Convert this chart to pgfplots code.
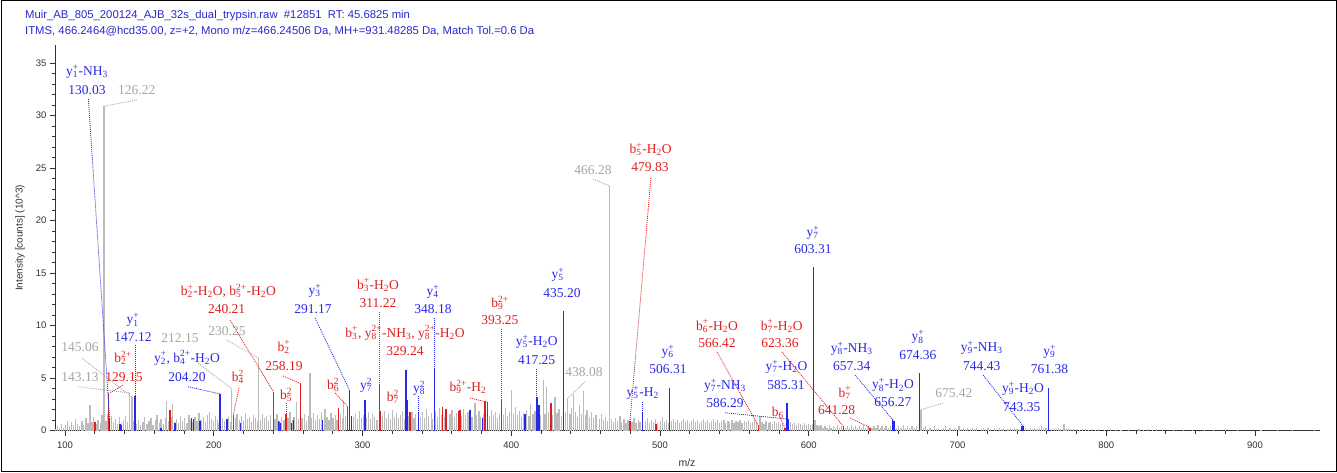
\documentclass[border=0pt]{standalone}
\usepackage{pgfplots}
\pgfplotsset{compat=1.18}
\usepackage{fontspec}
\setmainfont{Liberation Serif}
\newfontfamily\arial{Liberation Sans}
\definecolor{pblue}{RGB}{40,40,235}
\definecolor{pred}{RGB}{225,30,30}
\definecolor{pgrey}{RGB}{188,188,188}
\definecolor{lgrey}{RGB}{165,165,165}
\definecolor{tblue}{RGB}{40,40,205}
\definecolor{axc}{RGB}{50,50,50}
\newcommand\io[3]{#1\rlap{\textsubscript{#2}}\textsuperscript{#3}}
\newcommand\HtO{-H\textsubscript{2}O}
\newcommand\NHt{-NH\textsubscript{3}}
\begin{document}
\begin{tikzpicture}
\useasboundingbox (0,0) rectangle (1337pt,473pt);
\draw[black, line width=1pt] (1pt,1pt) rectangle (1336pt,472pt);
\node[anchor=west, text=tblue, font=\arial\fontsize{11.3}{13}\selectfont, inner sep=0] at (25pt,457.5pt) {Muir\_AB\_805\_200124\_AJB\_32s\_dual\_trypsin.raw~ \#12851~ RT: 45.6825 min};
\node[anchor=west, text=tblue, font=\arial\fontsize{11.3}{13}\selectfont, inner sep=0] at (25pt,442pt) {ITMS, 466.2464@hcd35.00, z=+2, Mono m/z=466.24506 Da, MH+=931.48285 Da, Match Tol.=0.6 Da};
\node[font=\arial\fontsize{10.5}{12}\selectfont, text=axc] at (687pt,10.5pt) {m/z};
\node[font=\arial\fontsize{10}{12}\selectfont, text=axc, rotate=90] at (20pt,235pt) {Intensity [counts] (10\textasciicircum 3)};
\begin{axis}[at={(55pt,42.3pt)}, anchor=south west, scale only axis,
  width=1265pt, height=385.7pt,
  xmin=93.28, xmax=943.7, ymin=0, ymax=36.73,
  axis lines*=left, clip=false,
  axis line style={axc, line width=0.9pt},
  xtick={100,200,...,900}, ytick={0,5,...,35},
  minor x tick num=4, minor y tick num=4,
  tick align=outside, major tick length=5pt, minor tick length=3pt,
  every tick/.style={axc, line width=0.9pt},
  tick label style={font=\arial\fontsize{9.5}{11}\selectfont, text=axc},
  /pgf/number format/assume math mode=true,
  xticklabel style={yshift=-2.5pt},
]
% grey peaks
\addplot[ycomb, pgrey, line width=1.2pt, no markers, forget plot] coordinates {
(93.8,0.2)(95.0,0.4)(96.3,0.3)(97.6,0.6)(99.0,0.3)(100.4,0.5)(101.7,0.9)(103.1,0.4)(104.6,0.8)(105.9,0.5)
(107.3,1.1)(108.6,0.6)(110.0,0.4)(111.4,0.9)(112.7,0.5)(114.1,1.2)(115.4,0.7)(116.8,2.4)(118.1,0.8)(119.4,1.3)
(120.8,0.6)(122.2,1.0)(123.6,0.7)(124.9,1.5)(126.22,30.9)(127.6,0.9)(128.4,1.6)(131.0,1.4)(132.4,0.8)(133.7,1.1)
(135.1,0.6)(136.5,1.3)(137.8,0.7)(139.2,1.0)(140.8,1.4)(142.0,0.8)(143.13,3.6)(145.06,3.2)(146.0,0.9)(148.3,0.6)
(149.6,1.0)(151.0,0.5)(152.4,0.8)(153.7,1.3)(155.1,0.6)(156.5,0.9)(157.8,1.2)(159.2,0.5)(160.6,1.0)(161.9,1.5)
(163.3,0.7)(164.6,1.1)(166.0,0.6)(167.3,1.2)(168.4,2.8)(169.5,0.9)(171.5,1.3)(172.4,2.5)(173.5,0.8)(175.2,1.1)
(176.5,0.7)(177.9,1.4)(179.2,0.9)(180.6,1.2)(182.0,0.7)(183.3,1.5)(184.7,1.0)(186.0,0.8)(187.4,1.3)(188.8,0.9)
(190.1,1.7)(191.5,1.0)(192.9,1.3)(194.2,0.8)(195.6,1.5)(197.0,1.8)(198.3,1.1)(199.7,0.9)(201.0,1.4)(202.4,1.0)
(203.4,0.7)(205.8,1.2)(207.2,0.9)(209.8,1.3)(211.0,0.8)(212.15,4.0)(214.4,1.2)(215.7,1.6)(217.1,1.0)(218.9,1.4)
(220.0,0.9)(221.3,1.7)(222.7,1.1)(224.1,1.3)(225.4,0.8)(226.8,1.5)(228.2,1.2)(229.5,0.9)(230.25,6.9)(231.6,1.0)
(233.0,1.6)(234.3,1.2)(235.7,1.4)(237.0,0.9)(238.4,1.5)(241.2,1.1)(242.5,1.6)(243.9,0.9)(245.8,1.3)(247.2,1.0)
(249.9,1.2)(251.3,1.8)(252.7,1.0)(254.0,1.3)(255.8,2.7)(257.1,1.1)(259.4,1.2)(260.8,1.6)(262.2,0.9)(263.5,1.4)
(264.7,5.5)(265.9,1.2)(267.2,1.7)(268.6,1.0)(270.0,1.5)(271.3,1.1)(272.6,1.8)(274.8,2.1)(276.1,1.3)(277.5,1.0)
(278.8,1.7)(280.2,1.2)(281.6,1.5)(282.9,1.0)(285.2,1.6)(286.5,1.2)(287.1,2.8)(288.4,1.4)(289.8,1.0)(293.9,1.3)
(295.2,1.6)(296.6,1.1)(298.0,1.9)(299.3,1.2)(300.6,1.5)(302.9,1.3)(304.2,1.8)(305.6,1.1)(307.0,1.6)(308.3,1.3)
(309.7,1.0)(313.5,1.4)(314.9,1.9)(316.2,1.2)(317.6,1.6)(319.0,1.1)(320.3,2.0)(321.7,1.3)(323.1,1.7)(324.4,1.2)
(325.8,1.5)(327.1,1.9)(328.4,1.1)(331.0,1.4)(333.3,1.8)(334.6,1.2)(335.9,1.6)(339.0,1.3)(340.3,1.8)(341.7,1.2)
(343.0,2.1)(344.4,1.4)(346.5,1.7)(347.3,1.1)(349.2,1.9)(350.5,1.3)(351.9,2.2)(353.0,1.5)(355.0,1.3)(358.9,1.6)
(360.2,2.0)(361.6,1.3)(363.0,1.7)(366.8,1.4)(368.1,2.1)(369.5,1.5)(370.9,1.8)(373.6,1.3)(375.6,2.6)(376.9,1.5)
(378.3,1.9)(379.3,1.3)(381.6,1.6)(385.5,1.4)(386.9,2.0)(388.2,1.5)(389.6,1.8)(391.0,1.2)(392.3,1.6)(394.6,1.5)
(396.0,2.2)(397.3,1.4)(398.7,1.8)(400.3,3.9)(401.5,1.6)(402.8,2.3)(404.2,1.5)(405.5,1.9)(406.9,1.3)(408.2,1.7)
(410.5,2.0)(411.9,1.4)(413.2,2.5)(414.6,1.6)(416.0,1.9)(419.7,1.5)(421.6,4.8)(422.7,1.6)(423.8,4.2)(425.2,1.8)
(428.0,1.5)(429.4,3.2)(430.8,1.7)(432.1,2.1)(434.0,1.4)(436.5,1.8)(438.08,3.1)(439.5,1.6)(440.6,2.2)(441.7,3.5)
(443.0,1.8)(444.4,1.3)(445.8,2.4)(447.2,1.6)(448.4,3.8)(449.7,1.5)(451.0,2.0)(452.4,1.3)(453.8,1.8)(455.1,1.2)
(457.0,1.5)(459.2,1.1)(460.6,1.6)(462.0,1.0)(463.3,1.3)(464.7,0.9)(466.28,23.3)(467.6,1.1)(469.0,0.8)(470.3,1.2)
(471.7,0.9)(473.1,1.4)(474.4,0.8)(475.8,1.1)(477.1,0.7)(478.5,1.0)(481.2,0.8)(482.5,1.2)(483.9,0.7)(485.3,1.0)
(486.6,0.8)(490.0,0.9)(491.4,1.2)(492.7,0.7)(494.1,1.0)(495.4,0.8)(496.8,1.1)(498.6,0.7)(500.2,0.9)(501.5,1.3)
(502.9,0.8)(504.2,1.0)(505.6,0.7)(507.6,0.9)(509.0,1.1)(510.3,0.8)(511.7,1.0)(513.0,0.7)(514.4,0.9)(515.8,1.1)
(517.1,0.8)(518.5,1.0)(519.8,0.7)(521.2,0.9)(522.6,1.1)(523.9,0.8)(525.3,1.0)(526.6,0.7)(528.0,0.9)(529.4,1.1)
(530.7,0.8)(532.1,1.0)(533.4,0.7)(534.8,0.9)(536.2,1.1)(537.5,0.8)(538.9,1.0)(540.2,0.7)(541.6,0.9)(543.0,1.0)
(544.3,0.7)(545.7,0.9)(547.0,0.8)(548.4,1.0)(549.8,0.7)(551.1,0.9)(552.5,0.8)(553.8,1.0)(555.2,0.7)(556.6,0.9)
(557.9,0.8)(559.3,1.0)(560.6,0.7)(562.0,0.8)(563.4,1.0)(564.7,0.7)(567.2,1.4)(568.6,0.8)(570.0,0.6)(571.3,0.9)
(572.7,0.7)(574.0,0.8)(575.4,0.6)(576.8,0.9)(578.1,0.7)(579.5,0.8)(580.8,0.6)(582.2,0.7)(587.5,0.8)(588.9,0.6)
(590.2,0.7)(591.6,0.5)(593.0,0.7)(594.3,0.6)(595.7,0.5)(597.0,0.7)(598.4,0.5)(599.8,0.6)(601.1,0.5)(602.5,0.6)
(604.2,1.0)(605.5,0.5)(606.9,0.4)(608.2,0.5)(609.6,0.3)(611.0,0.4)(612.3,0.3)(613.7,0.5)(615.0,0.3)(616.4,0.4)
(617.8,0.3)(619.1,0.5)(620.5,0.3)(621.8,0.4)(624.8,0.3)(626.2,0.4)(627.5,0.3)(628.9,0.5)(630.2,0.3)(631.6,0.4)
(633.0,0.3)(634.3,0.4)(635.7,0.3)(637.0,0.5)(638.4,0.3)(639.8,0.4)(642.5,0.3)(643.9,0.4)(645.2,0.3)(646.6,0.5)
(648.0,0.3)(649.3,0.4)(650.7,0.3)(652.0,0.4)(653.4,0.3)(654.8,0.4)(659.0,0.3)(660.5,0.4)(662.0,0.3)(663.5,0.5)
(665.0,0.3)(666.5,0.4)(668.0,0.3)(669.5,0.4)(671.0,0.3)(672.5,0.4)(675.42,2.0)(677.0,0.3)(678.5,0.4)(680.0,0.2)
(681.5,0.3)(683.0,0.2)(684.5,0.4)(686.0,0.2)(687.5,0.3)(689.0,0.2)(690.5,0.3)(692.0,0.4)(693.5,0.2)(695.0,0.3)
(696.5,0.2)(698.0,0.3)(699.5,0.2)(701.0,0.4)(702.5,0.2)(704.0,0.3)(705.5,0.2)(707.0,0.3)(708.5,0.2)(710.0,0.3)
(711.5,0.2)(713.0,0.3)(716.0,0.2)(717.5,0.3)(719.0,0.2)(720.5,0.3)(722.0,0.2)(725.0,0.3)(726.5,0.2)(728.0,0.3)
(729.5,0.2)(731.0,0.3)(734.0,0.2)(735.5,0.3)(737.0,0.2)(738.5,0.3)(740.0,0.2)(741.5,0.2)(746.0,0.3)(747.5,0.2)
(749.0,0.3)(750.5,0.2)(752.0,0.3)(753.5,0.2)(755.0,0.3)(756.5,0.4)(758.0,0.2)(759.5,0.3)(763.0,0.2)(765.0,0.3)
(766.5,0.2)(768.0,0.3)(769.5,0.2)(771.6,0.6)(773.0,0.2)(774.5,0.3)(776.0,0.2)(778.0,0.2)(780.0,0.2)(782.0,0.1)
(784.0,0.2)(786.0,0.2)(788.0,0.1)(790.0,0.2)(793.0,0.1)(795.0,0.2)(799.0,0.1)(803.0,0.2)(806.0,0.1)(810.0,0.1)
(815.0,0.1)(822.0,0.2)(825.0,0.1)(828.0,0.2)(831.0,0.1)(834.0,0.2)(838.0,0.1)(845.0,0.1)(852.0,0.1)(858.0,0.1)
(866.0,0.1)(872.0,0.1)(880.0,0.1)(888.0,0.1)(904.0,0.1)(915.0,0.1)(925.0,0.1)(940.0,0.1)
};
% red peaks
\addplot[ycomb, pred, line width=1.3pt, no markers, forget plot] coordinates {
(120.2,0.8)(129.15,3.6)(170.6,2.0)(204.6,0.9)(213.1,1.5)(240.21,3.7)(243.9,0.8)(248.6,1.6)(258.19,4.5)
(283.8,2.2)(290.0,2.3)(311.22,4.35)(312.2,1.9)(331.9,1.8)(353.9,2.3)(356.1,2.1)(364.4,1.9)(365.5,2.0)
(382.4,2.8)(384.2,2.7)(393.25,2.9)(408.8,1.0)(426.7,2.6)(479.83,0.9)(497.3,0.6)(566.42,0.4)(584.0,0.3)
(623.36,0.4)(641.28,0.3)
};
% blue peaks
\addplot[ycomb, pblue, line width=1.3pt, no markers, forget plot] coordinates {
(130.03,1.1)(137.0,0.6)(138.1,0.5)(147.12,3.3)(164.5,0.3)(174.0,0.7)(185.2,1.2)(186.3,1.1)(190.8,0.9)
(204.20,3.5)(208.9,1.1)(218.1,0.7)(243.4,0.9)(245.0,0.7)(252.4,0.7)(253.5,1.0)(273.2,1.0)(291.17,3.9)
(292.7,1.4)(301.7,2.9)(329.24,5.8)(330.1,2.9)(337.5,1.8)(348.18,5.9)(372.3,2.0)(380.5,1.2)(409.2,1.6)
(417.25,3.2)(418.7,2.4)(435.20,11.4)(488.4,1.8)(506.31,4.1)(585.31,2.6)(586.29,1.1)(603.31,15.6)
(656.27,1.0)(657.34,0.9)(674.36,5.5)(743.35,0.4)(744.43,0.4)(761.38,4.1)
};
% leader lines
\begin{scope}[line width=0.8pt, dash pattern=on 1pt off 1pt]
\draw[pblue] (axis cs:115.7,31.6) -- (axis cs:130.03,1.1);
\draw[lgrey] (axis cs:148.4,31.5) -- (axis cs:126.22,30.9);
\draw[pblue] (axis cs:147.12,8.2) -- (axis cs:147.12,3.3);
\draw[lgrey] (axis cs:111.4,6.9) -- (axis cs:145.06,3.2);
\draw[pred] (axis cs:139,4.35) -- (axis cs:130.5,3.6);
\draw[lgrey] (axis cs:109,4.19) -- (axis cs:143.13,3.6);
\draw[pblue] (axis cs:182.7,4.19) -- (axis cs:204.2,3.5);
\draw[lgrey] (axis cs:189.6,6.42) -- (axis cs:212.15,4.0);
\draw[pred] (axis cs:210.9,10.54) -- (axis cs:240.21,3.7);
\draw[lgrey] (axis cs:208.7,8.64) -- (axis cs:230.25,6.9);
\draw[pred] (axis cs:217,4.07) -- (axis cs:213.1,1.5);
\draw[pblue] (axis cs:268.1,10.73) -- (axis cs:291.17,3.9);
\draw[pred] (axis cs:246.6,5.21) -- (axis cs:258.19,4.5);
\draw[pred] (axis cs:248.6,2.6) -- (axis cs:248.6,1.6);
\draw[pred] (axis cs:311.22,11.3) -- (axis cs:311.22,4.35);
\draw[pblue] (axis cs:348.18,10.7) -- (axis cs:348.18,5.9);
\draw[pred] (axis cs:393.25,9.7) -- (axis cs:393.25,2.9);
\draw[pblue] (axis cs:417.25,5.9) -- (axis cs:417.25,3.2);
\draw[pred] (axis cs:281.5,3.59) -- (axis cs:290,2.3);
\draw[pblue] (axis cs:337.5,3.3) -- (axis cs:337.5,1.8);
\draw[pred] (axis cs:372.3,3.11) -- (axis cs:384.2,2.7);
\draw[lgrey] (axis cs:449.6,4.67) -- (axis cs:438.08,3.1);
\draw[pred] (axis cs:493.9,24.07) -- (axis cs:479.83,0.9);
\draw[lgrey] (axis cs:455.2,23.94) -- (axis cs:466.28,23.3);
\draw[pred] (axis cs:538.3,7.5) -- (axis cs:566.42,0.4);
\draw[pred] (axis cs:582,7.5) -- (axis cs:623.36,0.4);
\draw[pblue] (axis cs:631.1,5.3) -- (axis cs:657.34,0.9);
\draw[pblue] (axis cs:543.7,1.71) -- (axis cs:586.29,1.1);
\draw[pblue] (axis cs:488.4,2.7) -- (axis cs:488.4,1.8);
\draw[pred] (axis cs:627.7,1.21) -- (axis cs:641.28,0.3);
\draw[pred] (axis cs:580.7,1.2) -- (axis cs:584,0.3);
\draw[pblue] (axis cs:717.2,5.3) -- (axis cs:744.43,0.4);
\draw[lgrey] (axis cs:675.42,2.0) -- (axis cs:690.9,2.64);
\end{scope}
% labels
\begin{scope}[every node/.style={font=\fontsize{13.5}{15}\selectfont, inner sep=0pt}]
\node[text=pblue] at (axis cs:114.8,34.16) {\io{y}{1}{+}\NHt};
\node[text=pblue] at (axis cs:114.8,32.45) {130.03};
\node[text=lgrey] at (axis cs:148.2,32.45) {126.22};
\node[text=pblue] at (axis cs:145.7,10.54) {\io{y}{1}{+}};
\node[text=pblue] at (axis cs:145.7,8.92) {147.12};
\node[text=lgrey] at (axis cs:110.1,7.97) {145.06};
\node[text=pred] at (axis cs:139,6.93) {\io{b}{2}{2+}};
\node[text=pred] at (axis cs:139.7,5.14) {129.15};
\node[text=lgrey] at (axis cs:110.1,5.14) {143.13};
\node[text=pblue] at (axis cs:182,6.93) {\io{y}{2}{+}, \io{b}{4}{2+}\HtO};
\node[text=pblue] at (axis cs:182,5.14) {204.20};
\node[text=lgrey] at (axis cs:177.3,8.83) {212.15};
\node[text=pred] at (axis cs:209.8,13.33) {\io{b}{2}{+}\HtO, \io{b}{5}{2+}\HtO};
\node[text=pred] at (axis cs:208.7,11.56) {240.21};
\node[text=lgrey] at (axis cs:208.9,9.52) {230.25};
\node[text=pred] at (axis cs:216.3,5.14) {\io{b}{4}{2}};
\node[text=pblue] at (axis cs:268.1,13.33) {\io{y}{3}{+}};
\node[text=pblue] at (axis cs:266.7,11.59) {291.17};
\node[text=pred] at (axis cs:247.2,7.97) {\io{b}{2}{+}};
\node[text=pred] at (axis cs:247.2,6.16) {258.19};
\node[text=pred] at (axis cs:248.6,3.4) {\io{b}{5}{2}};
\node[text=pred] at (axis cs:310.4,13.88) {\io{b}{3}{+}\HtO};
\node[text=pred] at (axis cs:310.4,12.16) {311.22};
\node[text=pblue] at (axis cs:347.4,13.21) {\io{y}{4}{+}};
\node[text=pblue] at (axis cs:347.4,11.59) {348.18};
\node[text=pblue] at (axis cs:431.4,14.83) {\io{y}{5}{+}};
\node[text=pblue] at (axis cs:434.1,13.14) {435.20};
\node[text=pred] at (axis cs:392.4,12.16) {\io{b}{9}{2+}};
\node[text=pred] at (axis cs:392.4,10.54) {393.25};
\node[text=pred] at (axis cs:328.6,9.33) {\io{b}{3}{+}, \io{y}{8}{2+}\NHt, \io{y}{8}{2+}\HtO};
\node[text=pred] at (axis cs:328.6,7.62) {329.24};
\node[text=pblue] at (axis cs:417.1,8.48) {\io{y}{5}{+}\HtO};
\node[text=pblue] at (axis cs:417.1,6.73) {417.25};
\node[text=pred] at (axis cs:280.2,4.35) {\io{b}{6}{2}};
\node[text=pblue] at (axis cs:302.4,4.35) {\io{y}{7}{2}};
\node[text=pred] at (axis cs:320.5,3.24) {\io{b}{7}{2}};
\node[text=pblue] at (axis cs:338,4.07) {\io{y}{8}{2}};
\node[text=pred] at (axis cs:370.9,4.19) {\io{b}{9}{2+}-H\textsubscript{2}};
\node[text=lgrey] at (axis cs:448.9,5.59) {438.08};
\node[text=pred] at (axis cs:493.7,26.8) {\io{b}{5}{+}\HtO};
\node[text=pred] at (axis cs:493.3,25.14) {479.83};
\node[text=lgrey] at (axis cs:455,24.83) {466.28};
\node[text=pblue] at (axis cs:602.9,18.83) {\io{y}{7}{+}};
\node[text=pblue] at (axis cs:602.9,17.3) {603.31};
\node[text=pred] at (axis cs:538.3,9.97) {\io{b}{6}{+}\HtO};
\node[text=pred] at (axis cs:538.3,8.35) {566.42};
\node[text=pred] at (axis cs:581.8,9.97) {\io{b}{7}{+}\HtO};
\node[text=pred] at (axis cs:580.7,8.35) {623.36};
\node[text=pblue] at (axis cs:505.4,7.52) {\io{y}{6}{+}};
\node[text=pblue] at (axis cs:505.4,5.88) {506.31};
\node[text=pblue] at (axis cs:628.9,7.78) {\io{y}{8}{+}\NHt};
\node[text=pblue] at (axis cs:628.9,6.16) {657.34};
\node[text=pblue] at (axis cs:585.1,6.07) {\io{y}{7}{+}\HtO};
\node[text=pblue] at (axis cs:584.7,4.35) {585.31};
\node[text=pblue] at (axis cs:543.7,4.26) {\io{y}{7}{+}\NHt};
\node[text=pblue] at (axis cs:543.7,2.64) {586.29};
\node[text=pblue] at (axis cs:488.4,3.59) {\io{y}{5}{+}-H\textsubscript{2}};
\node[text=pred] at (axis cs:624.4,3.59) {\io{b}{7}{+}};
\node[text=pred] at (axis cs:618.8,1.97) {641.28};
\node[text=pred] at (axis cs:579.3,1.71) {b\textsubscript{6}};
\node[text=pblue] at (axis cs:673.4,8.92) {\io{y}{8}{+}};
\node[text=pblue] at (axis cs:673.4,7.21) {674.36};
\node[text=pblue] at (axis cs:716.3,7.88) {\io{y}{9}{+}\NHt};
\node[text=pblue] at (axis cs:716.3,6.16) {744.43};
\node[text=pblue] at (axis cs:761.9,7.52) {\io{y}{9}{+}};
\node[text=pblue] at (axis cs:761.9,5.88) {761.38};
\node[text=pblue] at (axis cs:656.6,4.35) {\io{y}{8}{+}\HtO};
\node[text=pblue] at (axis cs:656.6,2.76) {656.27};
\node[text=lgrey] at (axis cs:697.6,3.59) {675.42};
\node[text=pblue] at (axis cs:744,3.97) {\io{y}{9}{+}\HtO};
\node[text=pblue] at (axis cs:743.2,2.29) {743.35};
\end{scope}
\end{axis}
\end{tikzpicture}
\end{document}
